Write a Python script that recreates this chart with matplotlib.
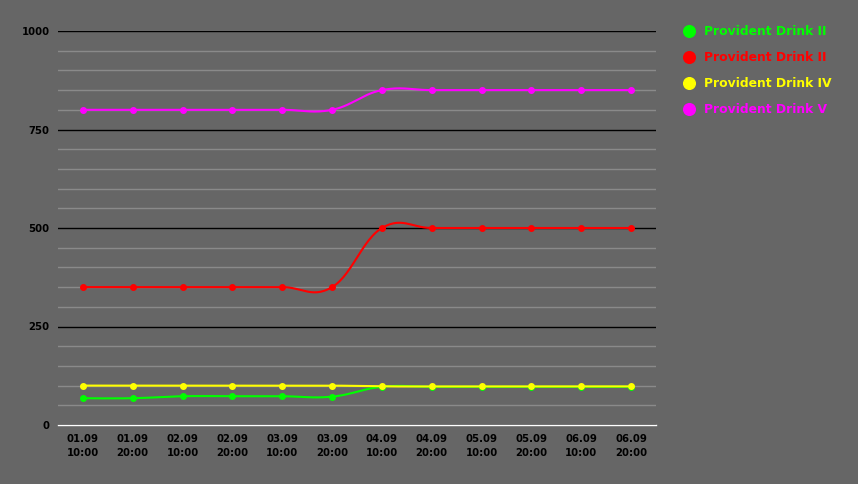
import numpy as np
import matplotlib
matplotlib.use("Agg")
from matplotlib import pyplot as plt
from matplotlib.ticker import MultipleLocator

labels = ["01.09\n10:00", "01.09\n20:00", "02.09\n10:00", "02.09\n20:00",
          "03.09\n10:00", "03.09\n20:00", "04.09\n10:00", "04.09\n20:00",
          "05.09\n10:00", "05.09\n20:00", "06.09\n10:00", "06.09\n20:00"]

names = ["Provident Drink II", "Provident Drink II", "Provident Drink IV", "Provident Drink V"]
colors = ["#00ff00", "#ff0000", "#ffff00", "#ff00ff"]

green = [68, 68, 73, 73, 73, 72, 97, 97, 97, 97, 97, 97]
red = [350, 350, 350, 350, 350, 350, 500, 500, 500, 500, 500, 500]
yellow = [100, 100, 100, 100, 100, 100, 98, 98, 98, 98, 98, 98]
magenta = [800, 800, 800, 800, 800, 800, 850, 850, 850, 850, 850, 850]
series = [green, red, yellow, magenta]


def spline(x, y, smoothing=1.5, n=30):
    # bezier spline like highcharts
    x = np.asarray(x, float)
    y = np.asarray(y, float)
    d = smoothing + 1
    lx, ly, rx, ry = [], [], [], []
    for i in range(len(x)):
        if i == 0 or i == len(x) - 1:
            lx.append(x[i]); ly.append(y[i]); rx.append(x[i]); ry.append(y[i])
            continue
        a = (smoothing * x[i] + x[i - 1]) / d
        b = (smoothing * y[i] + y[i - 1]) / d
        c = (smoothing * x[i] + x[i + 1]) / d
        e = (smoothing * y[i] + y[i + 1]) / d
        corr = (e - b) * (c - x[i]) / (c - a) + y[i] - e
        lx.append(a); ly.append(b + corr); rx.append(c); ry.append(e + corr)
    px, py = [], []
    t = np.linspace(0, 1, n)
    for i in range(len(x) - 1):
        p0 = (x[i], y[i]); p1 = (rx[i], ry[i]); p2 = (lx[i + 1], ly[i + 1]); p3 = (x[i + 1], y[i + 1])
        bx = (1 - t) ** 3 * p0[0] + 3 * (1 - t) ** 2 * t * p1[0] + 3 * (1 - t) * t ** 2 * p2[0] + t ** 3 * p3[0]
        by = (1 - t) ** 3 * p0[1] + 3 * (1 - t) ** 2 * t * p1[1] + 3 * (1 - t) * t ** 2 * p2[1] + t ** 3 * p3[1]
        px.extend(bx); py.extend(by)
    return px, py


plt.rcParams['font.family'] = 'DejaVu Sans'
bg = "#666666"
fig = plt.figure(figsize=(8.58, 4.84), dpi=100, facecolor=bg)
ax = fig.add_axes([58 / 858, 1 - 425 / 484, 598 / 858, 394 / 484])
ax.set_facecolor(bg)

xs = np.arange(len(labels))
handles = []
for vals, c, name in zip(series, colors, names):
    sx, sy = spline(xs, vals)
    ax.plot(sx, sy, color=c, lw=1.5, zorder=3)
    h, = ax.plot(xs, vals, 'o', color=c, ms=4, zorder=4, label=name)
    handles.append(h)

ax.set_xlim(-0.5, 11.5)
ax.set_ylim(0, 1000)
ax.yaxis.set_major_locator(MultipleLocator(250))
ax.yaxis.set_minor_locator(MultipleLocator(50))
ax.grid(which='minor', axis='y', color='#8a8a8a', lw=1)
ax.grid(which='major', axis='y', color='black', lw=1)
ax.set_axisbelow(True)
for s in ["top", "right", "left"]:
    ax.spines[s].set_visible(False)
ax.spines["bottom"].set_color("white")
ax.spines["bottom"].set_linewidth(1)
ax.tick_params(which='both', length=0, colors='black')
ax.tick_params(axis='x', pad=6.5)
ax.tick_params(axis='y', pad=6)
ax.set_xticks(xs)
ax.set_xticklabels(labels, fontsize=7.3, fontweight='bold', linespacing=1.45)
for t in ax.get_yticklabels():
    t.set_fontsize(7.3)
    t.set_fontweight('bold')

leg = fig.legend(handles=handles, loc='upper left', bbox_to_anchor=(674 / 858, 1 - 14 / 484),
                 frameon=False, handlelength=0.7, handletextpad=0.85, labelspacing=1.06,
                 markerscale=2.1, labelcolor='linecolor',
                 prop={'weight': 'bold', 'size': 8.9})

fig.savefig("out.png", dpi=100, facecolor=bg)
